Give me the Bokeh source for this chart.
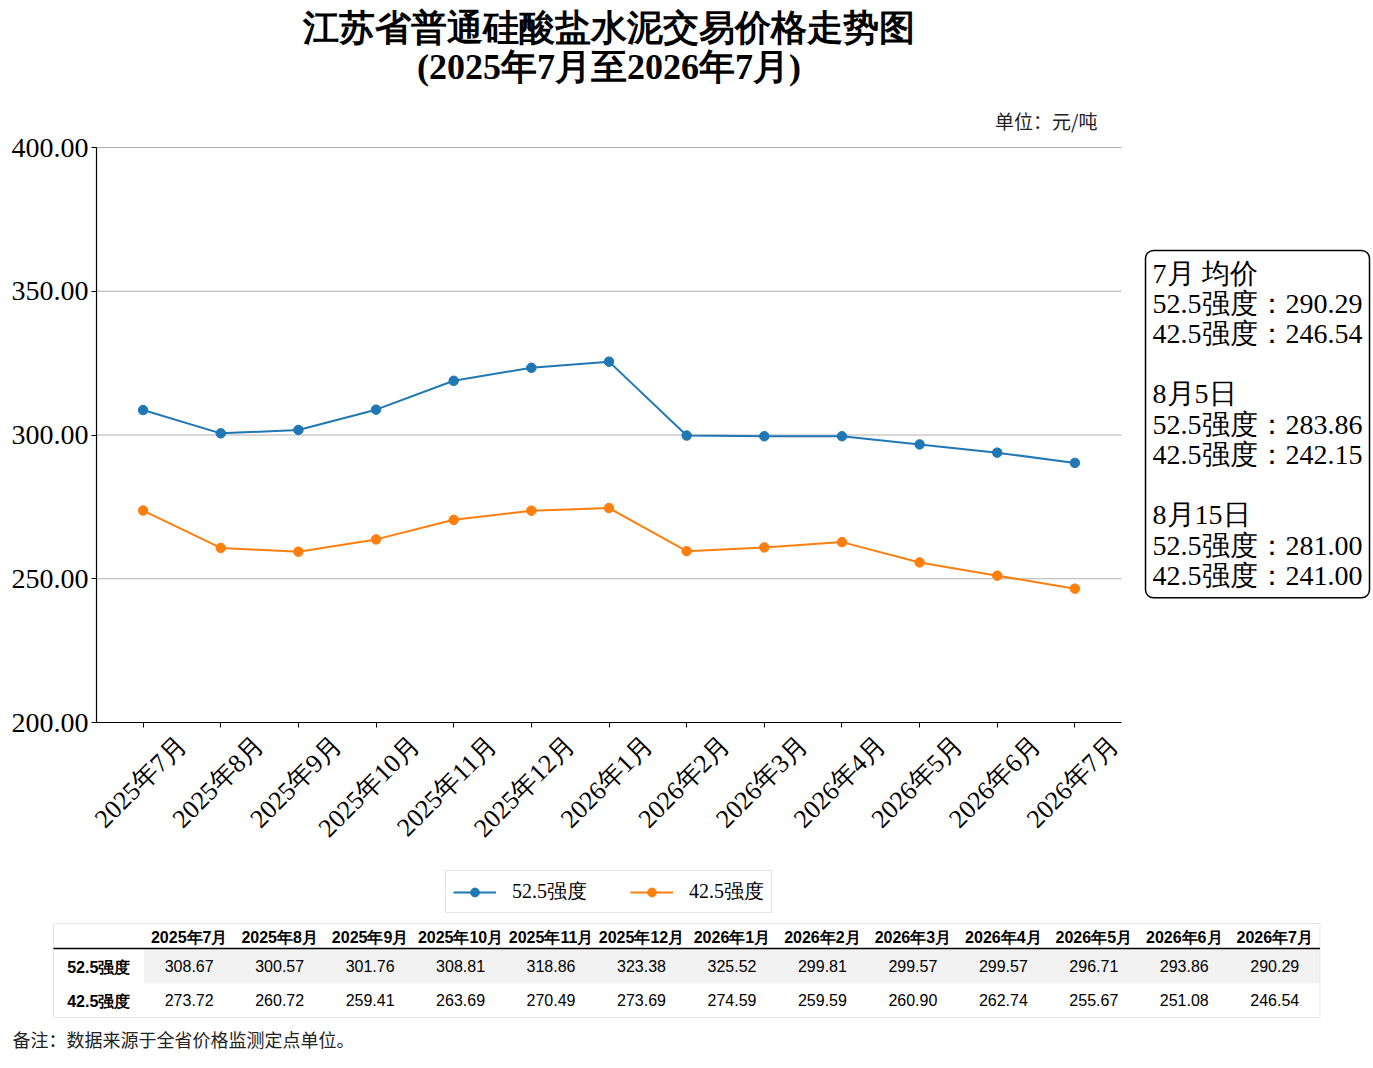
import math
from bokeh.plotting import figure
from bokeh.models import (Range1d, FixedTicker, PrintfTickFormatter, Label,
                          Legend, LegendItem, LinearAxis)
from bokeh.core.properties import value
from bokeh.embed import file_html
from bokeh.resources import INLINE

# data
months = ["2025年7月", "2025年8月", "2025年9月", "2025年10月", "2025年11月", "2025年12月",
          "2026年1月", "2026年2月", "2026年3月", "2026年4月", "2026年5月", "2026年6月", "2026年7月"]
p525 = [308.67, 300.57, 301.76, 308.81, 318.86, 323.38, 325.52,
        299.81, 299.57, 299.57, 296.71, 293.86, 290.29]
p425 = [273.72, 260.72, 259.41, 263.69, 270.49, 273.69, 274.59,
        259.59, 260.90, 262.74, 255.67, 251.08, 246.54]
series_names = ["52.5强度", "42.5强度"]
y_ticks = [200, 250, 300, 350, 400]

note_titles = ["7月 均价", "8月5日", "8月15日"]
note_525 = [290.29, 283.86, 281.00]
note_425 = [246.54, 242.15, 241.00]

title_lines = ["江苏省普通硅酸盐水泥交易价格走势图", "(2025年7月至2026年7月)"]
unit_text = "单位：元/吨"
footnote = "备注：数据来源于全省价格监测定点单位。"

SERIF = "Liberation Serif"
SANS = "Liberation Sans"
blue, orange = "#1f77b4", "#ff7f0e"

# canvas and chart area (pixels)
W, H = 1373, 1068
ax_l, ax_r, ax_t, ax_b = 96, 1121, 147, 722
n = len(months)
x0, x1 = -0.6, n - 1 + 0.6
y0, y1 = 200, 400
kx = (ax_r - ax_l) / (x1 - x0)
ky = (ax_b - ax_t) / (y1 - y0)

p = figure(width=W, height=H,
           x_range=Range1d(x0 - ax_l / kx, x1 + (W - ax_r) / kx),
           y_range=Range1d(y0 - (H - ax_b) / ky, y1 + ax_t / ky),
           x_axis_location=None, y_axis_location=None,
           output_backend="svg", toolbar_location=None, min_border=0)
p.outline_line_color = None
p.grid.visible = False

# pixel ranges for titles / box / table
p.extra_x_ranges = {"px": Range1d(0, W)}
p.extra_y_ranges = {"px": Range1d(H, 0)}
# table columns: one unit = one column, row-label column centred at -1
col_w = (1320 - 144) / n
p.extra_x_ranges["tab"] = Range1d(-1.5 - 53 / col_w, -1.5 + (W - 53) / col_w)

# axes
xs = list(range(n))
xaxis = LinearAxis(ticker=FixedTicker(ticks=xs), fixed_location=y0, bounds=(x0, x1),
                   major_label_overrides={i: "" for i in xs})
yaxis = LinearAxis(ticker=FixedTicker(ticks=y_ticks), fixed_location=x0, bounds=(y0, y1),
                   formatter=PrintfTickFormatter(format="%.2f"))
for ax in (xaxis, yaxis):
    ax.axis_line_color = "black"
    ax.axis_line_width = 1.2
    ax.major_tick_line_color = "black"
    ax.major_tick_out = 5
    ax.major_tick_in = 0
    ax.minor_tick_line_color = None
    ax.major_label_text_font = SERIF
    ax.major_label_text_color = "black"
    ax.major_label_standoff = 3
yaxis.major_label_text_font_size = "28px"
p.add_layout(xaxis, "below")
p.add_layout(yaxis, "left")

# month labels: label-only axis, nudged so the rotated text is centred on the tick
shift = 39 / kx
p.extra_x_ranges["lab"] = Range1d(p.x_range.start - shift, p.x_range.end - shift)
lab_axis = LinearAxis(x_range_name="lab", ticker=FixedTicker(ticks=xs),
                      fixed_location=y0 - 10 / ky, bounds=(x0, x1),
                      major_label_overrides={i: m for i, m in enumerate(months)},
                      major_label_orientation=math.pi / 4,
                      axis_line_color=None, major_tick_line_color=None,
                      minor_tick_line_color=None, major_tick_out=5, major_tick_in=0,
                      major_label_standoff=3, major_label_text_font=SERIF,
                      major_label_text_font_size="26px", major_label_text_color="black")
p.add_layout(lab_axis, "below")

# horizontal grid
gy = y_ticks[1:]
p.segment(x0=[x0] * len(gy), y0=gy, x1=[x1] * len(gy), y1=gy,
          line_color="#b0b0b0", line_width=1)

items = []
for vals, col, name in zip([p525, p425], [blue, orange], series_names):
    ln = p.line(xs, vals, line_color=col, line_width=2)
    sc = p.scatter(xs, vals, size=9.5, fill_color=col, line_color=col)
    items.append(LegendItem(label=name, renderers=[ln, sc]))

legend = Legend(items=items, orientation="horizontal", location=(445, H - 913),
                label_text_font=SERIF, label_text_font_size="20px",
                label_text_color="black",
                padding=7, spacing=43, glyph_width=43, glyph_height=22,
                label_standoff=16, label_height=22, margin=0,
                border_line_color="#cccccc", border_line_width=1,
                background_fill_color="white", background_fill_alpha=1)
p.add_layout(legend, "center")

# title and unit
for txt, cy in zip(title_lines, [27, 66]):
    p.add_layout(Label(x=(ax_l + ax_r) / 2, y=cy, x_range_name="px", y_range_name="px",
                       text=txt, text_align="center", text_baseline="middle",
                       text_font=SERIF, text_font_style="bold",
                       text_font_size="36px", text_color="black"))
p.add_layout(Label(x=1097, y=120, x_range_name="px", y_range_name="px", text=unit_text,
                   text_align="right", text_baseline="middle", text_font="Noto Sans CJK SC",
                   text_font_size="19px", text_color="#222222"))

# note box
box_lines = []
for i, (t, a, b) in enumerate(zip(note_titles, note_525, note_425)):
    if i:
        box_lines.append("")
    box_lines += [t, f"{series_names[0]}：{a:.2f}", f"{series_names[1]}：{b:.2f}"]
p.add_layout(Label(x=1145, y=250, x_range_name="px", y_range_name="px",
                   text="\n".join(box_lines), text_align="left", text_baseline="top",
                   text_font=SERIF, text_font_size="28px", text_line_height=0.975,
                   text_color="black", padding=7, border_radius=8,
                   border_line_color="black", border_line_width=1.5,
                   background_fill_color="white"))

# table
tk = dict(x_range_name="tab", y_range_name="px")
p.quad(left=[-0.5], right=[n - 0.5], top=[948], bottom=[983],
       fill_color="#f2f2f2", line_color=None, **tk)
p.quad(left=[-1.5], right=[n - 0.5], top=[923], bottom=[1017],
       fill_color=None, line_color="#e6e6e6", line_width=1, **tk)
p.segment(x0=[-1.5], y0=[948], x1=[n - 0.5], y1=[948], line_color="black",
          line_width=1.5, **tk)
p.text(x=xs, y=[937] * n, text=months, text_align="center", text_baseline="middle",
       text_font=value(SANS), text_font_style="bold", text_font_size="16px", **tk)
p.text(x=[-1, -1], y=[967, 1001], text=series_names, text_align="center",
       text_baseline="middle", text_font=value(SANS), text_font_style="bold",
       text_font_size="16px", **tk)
for vals, yy in zip([p525, p425], [965, 999]):
    p.text(x=xs, y=[yy] * n, text=[f"{v:.2f}" for v in vals], text_align="center",
           text_baseline="middle", text_font=value(SANS), text_font_size="16px", **tk)
p.text(x=[12], y=[1038], text=[footnote], text_align="left", text_baseline="middle",
       text_font=value("Noto Sans CJK SC"), text_font_size="18px",
       text_color="#222222", x_range_name="px", y_range_name="px")

open("out.html", "w").write(file_html(p, INLINE))
